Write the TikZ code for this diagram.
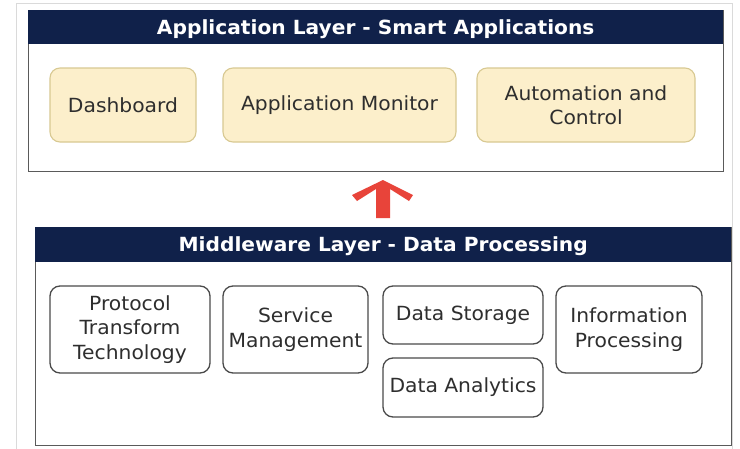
\documentclass[tikz,border=0pt]{standalone}
\usepackage{fontspec}
\setmainfont{DejaVu Sans}
\newfontfamily\boxfont[FakeStretch=1.04]{DejaVu Sans}
\newfontfamily\headfont[FakeStretch=1.035]{DejaVu Sans Bold}
\usetikzlibrary{positioning}
\definecolor{navy}{HTML}{10214A}
\definecolor{paleyellow}{HTML}{FCEFCB}
\definecolor{yellowedge}{HTML}{D8C992}
\definecolor{boxedge}{HTML}{4A4A4A}
\definecolor{layeredge}{HTML}{5A5A5A}
\definecolor{inktext}{HTML}{2E2E2E}
\definecolor{arrowred}{HTML}{E8443A}
\definecolor{framegray}{HTML}{DADADA}
\tikzset{
  layerbox/.style={draw=layeredge, line width=1.4pt, fill=white, anchor=north west, inner sep=0pt},
  headband/.style={fill=navy, anchor=north west, inner sep=0pt},
  headtext/.style={text=white, font=\headfont\fontsize{19.5}{23}\selectfont},
  appbox/.style={draw=yellowedge, line width=1.1pt, fill=paleyellow, rounded corners=10pt,
    inner sep=0pt, align=center, text=inktext, font=\boxfont\fontsize{19.5}{24}\selectfont},
  midbox/.style={draw=boxedge, line width=1.3pt, fill=white, rounded corners=10pt,
    inner sep=0pt, align=center, text=inktext, font=\boxfont\fontsize{19.5}{24.5}\selectfont},
}
\begin{document}
\begin{tikzpicture}[x=1pt, y=-1pt]
\useasboundingbox (0,0) rectangle (740,448);
\fill[white] (0,0) rectangle (740,448);
% faint page frame
\draw[framegray, line width=0.8pt] (16,460) -- (16,3) -- (732,3) -- (732,460);

% application layer
\node[layerbox, minimum width=695pt, minimum height=161pt] (app) at (28,10) {};
\node[headband, minimum width=695pt, minimum height=34pt] (apphead) at (28,10) {};
\node[headtext] at ([yshift=-2pt]apphead.center) {Application Layer - Smart Applications};

\node[appbox, minimum width=146pt, minimum height=74pt] (dash) at (123,105) {Dashboard};
\node[appbox, minimum width=233pt, minimum height=74pt] (monitor) at (339.5,105) {Application Monitor};
\node[appbox, minimum width=218pt, minimum height=74pt] (auto) at (586,105) {Automation and\\Control};

% middleware layer
\node[layerbox, minimum width=696pt, minimum height=218pt] (mid) at (35,227) {};
\node[headband, minimum width=696pt, minimum height=35pt] (midhead) at (35,227) {};
\node[headtext] at ([yshift=-1.5pt]midhead.center) {Middleware Layer - Data Processing};

\node[midbox, minimum width=160pt, minimum height=87pt] (proto) at (130,329.5) {Protocol\\Transform\\Technology};
\node[midbox, minimum width=145pt, minimum height=87pt] (service) at (295.5,329.5) {Service\\Management};
\node[midbox, minimum width=160pt, minimum height=58pt] (storage) at (463,315) {Data Storage};
\node[midbox, minimum width=160pt, minimum height=59pt] (analytics) at (463,387.5) {Data Analytics};
\node[midbox, minimum width=146pt, minimum height=87pt] (info) at (629,329.5) {Information\\Processing};

% upward flow arrow between the layers
\coordinate (arrowtip) at (383,180);
\begin{scope}[shift={(arrowtip)}]
\fill[arrowred] (0,0) -- (30,15) -- (26,21) -- (7,9) -- (7,38) -- (-7,38) -- (-7,9)
  -- (-26,21) -- (-31,15) -- cycle;
\end{scope}
\end{tikzpicture}
\end{document}
